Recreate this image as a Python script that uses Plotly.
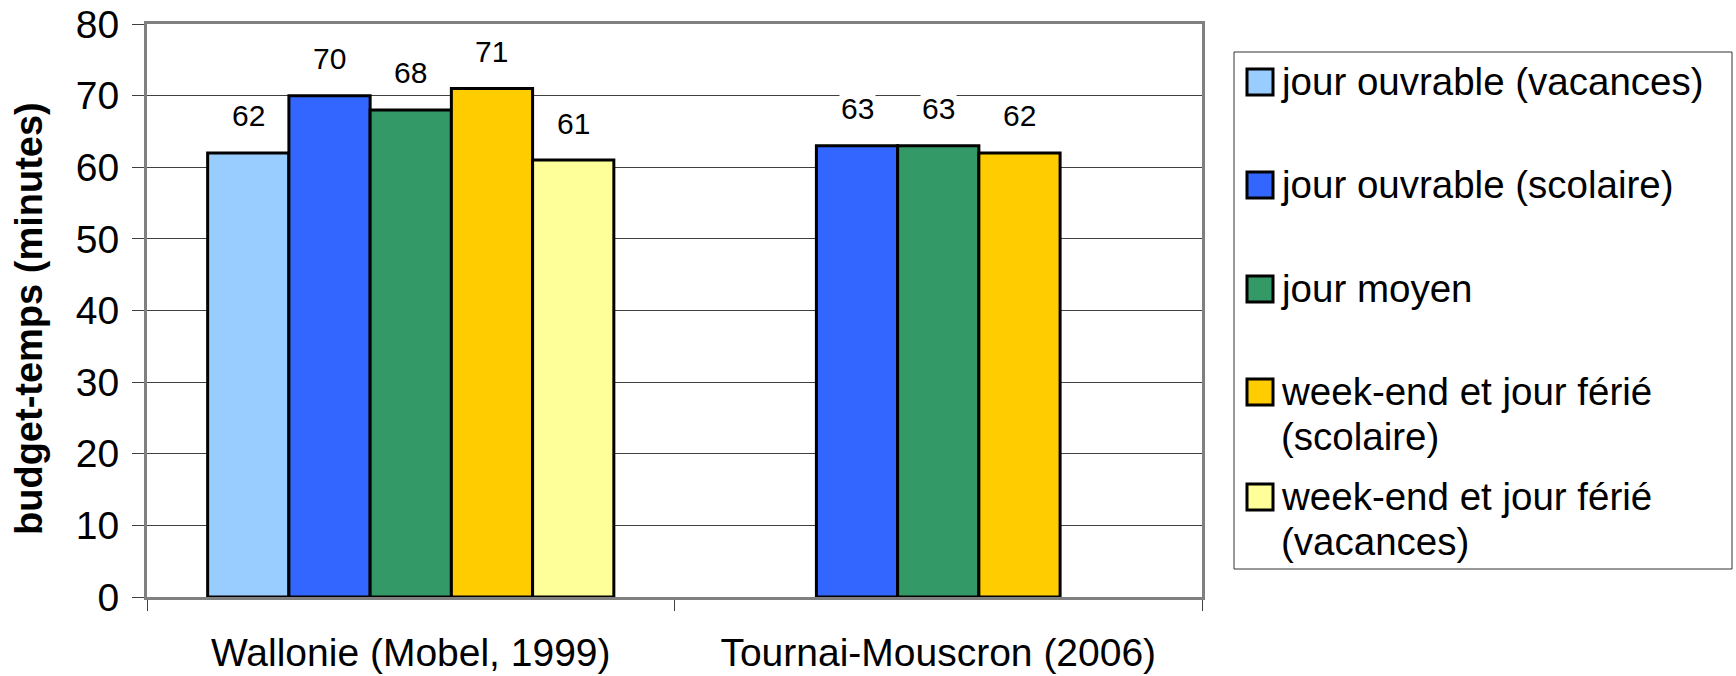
import plotly.graph_objects as go

# ---- data ----
categories = ["Wallonie (Mobel, 1999)", "Tournai-Mouscron (2006)"]
series_names = [
    "jour ouvrable (vacances)",
    "jour ouvrable (scolaire)",
    "jour moyen",
    "week-end et jour férié (scolaire)",
    "week-end et jour férié (vacances)",
]
legend_lines = [
    ["jour ouvrable (vacances)"],
    ["jour ouvrable (scolaire)"],
    ["jour moyen"],
    ["week-end et jour férié", "(scolaire)"],
    ["week-end et jour férié", "(vacances)"],
]
jour_ouvrable_vacances = [62, None]
jour_ouvrable_scolaire = [70, 63]
jour_moyen = [68, 63]
weekend_scolaire = [71, 62]
weekend_vacances = [61, None]
series_values = [jour_ouvrable_vacances, jour_ouvrable_scolaire, jour_moyen,
                 weekend_scolaire, weekend_vacances]
colors = ["#99CCFF", "#3366FF", "#339966", "#FFCC00", "#FFFF99"]
y_ticks = [0, 10, 20, 30, 40, 50, 60, 70, 80]
y_title = "budget-temps (minutes)"

FONT = "Liberation Sans, Arial, Helvetica, sans-serif"
W, H = 1736, 676
L, R, T, B = 147, 1202, 24, 597
PW, PH = R - L, B - T
BARGAP = 0.23


def px_x(px):
    return (px - L) / PW


def px_y(py):
    return (B - py) / PH


xs = list(range(len(categories)))
fig = go.Figure()
for name, vals, col in zip(series_names, series_values, colors):
    fig.add_trace(go.Bar(
        x=xs, y=vals, name=name, showlegend=False,
        marker=dict(color=col, line=dict(color="black", width=3)),
    ))

annotations = []
# value labels above the bars (group slot offsets follow plotly's group layout)
n = len(series_values)
slot = (1 - BARGAP) / n
for i, vals in enumerate(series_values):
    for xi, v in zip(xs, vals):
        if v is None:
            continue
        annotations.append(dict(
            x=xi + (i - (n - 1) / 2) * slot, y=v, xref="x", yref="y",
            text=str(v), showarrow=False, yshift=37, yanchor="middle",
            font=dict(family=FONT, size=30, color="black"),
            bgcolor="white", borderpad=1,
        ))

# y-axis title
annotations.append(dict(
    x=px_x(29), y=px_y(319), xref="paper", yref="paper", text="<b>%s</b>" % y_title,
    textangle=-90, showarrow=False, xanchor="center", yanchor="middle",
    font=dict(family=FONT, size=38, color="black"),
))

# custom legend
shapes = [dict(type="rect", xref="paper", yref="paper",
               x0=px_x(1234), x1=px_x(1732), y0=px_y(52), y1=px_y(569),
               line=dict(color="#333333", width=1), fillcolor="white", layer="above")]
item_centers = [82, 185, 289, 392, 497]
line_step = 45
for lines, col, cy in zip(legend_lines, colors, item_centers):
    shapes.append(dict(type="rect", xref="paper", yref="paper",
                       x0=px_x(1247), x1=px_x(1273), y0=px_y(cy - 13), y1=px_y(cy + 13),
                       line=dict(color="black", width=3), fillcolor=col, layer="above"))
    for k, txt in enumerate(lines):
        annotations.append(dict(
            x=px_x(1279), y=px_y(cy - 1 + k * line_step), xref="paper", yref="paper",
            text=txt, showarrow=False, xanchor="left", yanchor="middle",
            font=dict(family=FONT, size=38.5, color="black"),
        ))

fig.update_layout(
    width=W, height=H,
    margin=dict(l=L, r=W - R, t=T, b=H - B, pad=0, autoexpand=False),
    paper_bgcolor="white", plot_bgcolor="white",
    barmode="group", bargap=BARGAP, bargroupgap=0,
    annotations=annotations, shapes=shapes,
    font=dict(family=FONT, color="black"),
)
fig.update_xaxes(
    range=[-0.5, len(categories) - 0.5], tickvals=xs, ticktext=categories,
    ticks="", showgrid=False, zeroline=False, automargin=False,
    showline=True, mirror=True, linecolor="#808080", linewidth=3,
    tickfont=dict(family=FONT, size=39, color="black"), ticklabelstandoff=19,
    minor=dict(tickmode="array", tickvals=[i - 0.5 for i in range(len(categories) + 1)],
               ticks="outside", ticklen=11, tickcolor="#404040", tickwidth=1, showgrid=False),
)
fig.update_yaxes(
    range=[0, 80], tickvals=y_ticks, ticks="outside", ticklen=12, tickcolor="#404040",
    tickwidth=1, showgrid=True, gridcolor="#404040", gridwidth=1, zeroline=False,
    automargin=False,
    showline=True, mirror=True, linecolor="#808080", linewidth=3,
    tickfont=dict(family=FONT, size=39, color="black"), ticklabelstandoff=5,
)

fig.write_html(
    "out.html",
    config={"displayModeBar": False},
    post_script="document.body.style.margin='0';document.body.style.overflow='hidden';",
)
